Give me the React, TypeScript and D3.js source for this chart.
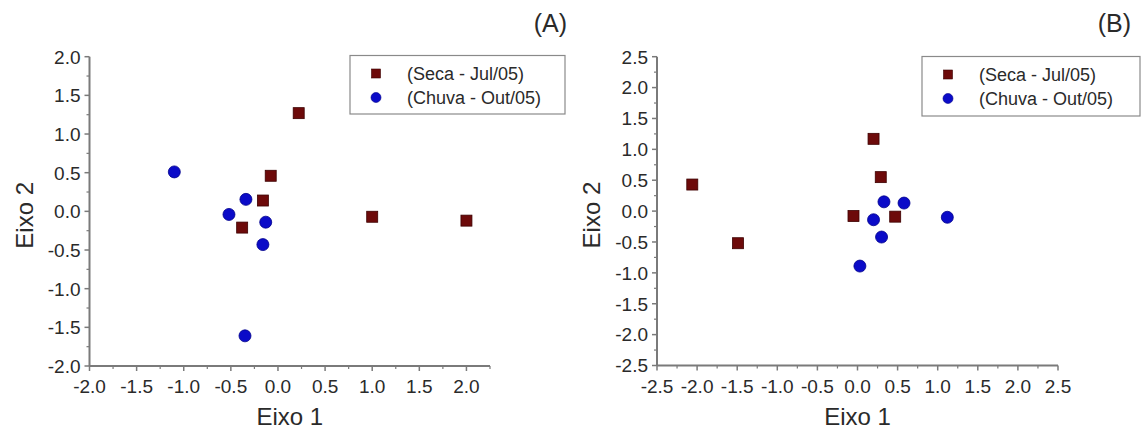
import React from "react";
import * as d3 from "d3";

// ---- data ----
const seriesNames = ["(Seca - Jul/05)", "(Chuva - Out/05)"];
const panelTitles = ["(A)", "(B)"];
const xTitle = "Eixo 1";
const yTitle = "Eixo 2";

const secaA: [number, number][] = [
  [0.22, 1.27], [-0.077, 0.46], [-0.16, 0.14], [-0.38, -0.21], [1.0, -0.07], [2.0, -0.12],
];
const chuvaA: [number, number][] = [
  [-1.1, 0.51], [-0.34, 0.155], [-0.52, -0.04], [-0.13, -0.14], [-0.16, -0.43], [-0.35, -1.61],
];
const secaB: [number, number][] = [
  [-2.06, 0.43], [-1.49, -0.52], [0.2, 1.17], [0.29, 0.55], [-0.05, -0.08], [0.47, -0.09],
];
const chuvaB: [number, number][] = [
  [0.33, 0.15], [0.58, 0.13], [0.2, -0.14], [0.3, -0.42], [1.12, -0.1], [0.03, -0.89],
];

const ticksA = [-2.0, -1.5, -1.0, -0.5, 0.0, 0.5, 1.0, 1.5, 2.0];
const ticksB = [-2.5, -2.0, -1.5, -1.0, -0.5, 0.0, 0.5, 1.0, 1.5, 2.0, 2.5];
const xDomainA: [number, number] = [-2, 2.25];
const yDomainA: [number, number] = [-2, 2];
const xDomainB: [number, number] = [-2.5, 2.5];
const yDomainB: [number, number] = [-2.5, 2.5];

const SQ_COLOR = "#6d0a0a";
const SQ_STROKE = "#3d0000";
const CI_COLOR = "#0b0bc8";
const CI_STROKE = "#00008c";
const AXIS_COLOR = "#7a7a7a";
const TEXT_COLOR = "#2a2a2a";
const FONT = "'Liberation Sans', Arial, sans-serif";

type PanelProps = {
  xDomain: [number, number];
  yDomain: [number, number];
  xRange: [number, number];
  yRange: [number, number];
  ticks: number[];
  seca: [number, number][];
  chuva: [number, number][];
  title: string;
  titleX: number;
  legend: { x0: number; x1: number; y0: number; y1: number };
  yTitleX: number;
};

const fmt0 = d3.format(".1f");
const fmt = (v: number) => fmt0(v).replace("\u2212", "-");

function Panel(p: PanelProps) {
  const x = d3.scaleLinear().domain(p.xDomain).range(p.xRange);
  const y = d3.scaleLinear().domain(p.yDomain).range(p.yRange);
  const step = p.ticks[1] - p.ticks[0];
  const minorX = d3.range(p.xDomain[0] + step / 2, p.xDomain[1] + 1e-9, step);
  const minorY = d3.range(p.yDomain[0] + step / 2, p.yDomain[1], step);
  const xTicks = p.ticks.filter((t) => t <= p.xDomain[1] + 1e-9);
  const x0 = p.xRange[0];
  const yBase = p.yRange[0];
  const sq = 11;
  return (
    <g>
      {/* y axis */}
      <line x1={x0} x2={x0} y1={p.yRange[1]} y2={yBase} stroke={AXIS_COLOR} strokeWidth={2} />
      {p.ticks.map((t) => (
        <g key={"yt" + t}>
          <line x1={x0 - 5} x2={x0} y1={y(t)} y2={y(t)} stroke={AXIS_COLOR} strokeWidth={1.5} />
          <text x={x0 - 9} y={y(t)} dy="0.36em" textAnchor="end" fontSize={19} fill={TEXT_COLOR} fontFamily={FONT}>
            {fmt(t)}
          </text>
        </g>
      ))}
      {minorY.map((t) => (
        <line key={"ym" + t} x1={x0 - 3} x2={x0} y1={y(t)} y2={y(t)} stroke={AXIS_COLOR} strokeWidth={1.2} />
      ))}
      {/* x axis */}
      <line x1={x0} x2={p.xRange[1]} y1={yBase} y2={yBase} stroke={AXIS_COLOR} strokeWidth={2} />
      {xTicks.map((t) => (
        <g key={"xt" + t}>
          <line x1={x(t)} x2={x(t)} y1={yBase} y2={yBase + 5} stroke={AXIS_COLOR} strokeWidth={1.5} />
          <text x={x(t)} y={yBase + 27} textAnchor="middle" fontSize={19} fill={TEXT_COLOR} fontFamily={FONT}>
            {fmt(t)}
          </text>
        </g>
      ))}
      {minorX.map((t) => (
        <line key={"xm" + t} x1={x(t)} x2={x(t)} y1={yBase} y2={yBase + 3} stroke={AXIS_COLOR} strokeWidth={1.2} />
      ))}
      {/* axis titles */}
      <text
        x={(p.xRange[0] + p.xRange[1]) / 2}
        y={425}
        textAnchor="middle"
        fontSize={24}
        fill={TEXT_COLOR}
        fontFamily={FONT}
      >
        {xTitle}
      </text>
      <text
        transform={`translate(${p.yTitleX},${(p.yRange[0] + p.yRange[1]) / 2 + 4}) rotate(-90)`}
        textAnchor="middle"
        fontSize={24}
        fill={TEXT_COLOR}
        fontFamily={FONT}
      >
        {yTitle}
      </text>
      {/* panel title */}
      <text x={p.titleX} y={31.5} textAnchor="end" fontSize={25} fill={TEXT_COLOR} fontFamily={FONT}>
        {p.title}
      </text>
      {/* points */}
      {p.seca.map((d, i) => (
        <rect
          key={"s" + i}
          x={x(d[0]) - sq / 2}
          y={y(d[1]) - sq / 2}
          width={sq}
          height={sq}
          fill={SQ_COLOR}
          stroke={SQ_STROKE}
          strokeWidth={0.8}
        />
      ))}
      {p.chuva.map((d, i) => (
        <circle key={"c" + i} cx={x(d[0])} cy={y(d[1])} r={6} fill={CI_COLOR} stroke={CI_STROKE} strokeWidth={0.8} />
      ))}
      {/* legend */}
      <rect
        x={p.legend.x0}
        y={p.legend.y0}
        width={p.legend.x1 - p.legend.x0}
        height={p.legend.y1 - p.legend.y0}
        fill="#fff"
        stroke="#8a8a8a"
        strokeWidth={1.2}
      />
      <rect
        x={p.legend.x0 + 26 - 4.5}
        y={p.legend.y0 + 18 - 4.5}
        width={9}
        height={9}
        fill={SQ_COLOR}
        stroke={SQ_STROKE}
        strokeWidth={0.6}
      />
      <circle cx={p.legend.x0 + 26} cy={p.legend.y0 + 42} r={5} fill={CI_COLOR} stroke={CI_STROKE} strokeWidth={0.6} />
      <text x={p.legend.x0 + 57} y={p.legend.y0 + 24.5} fontSize={18} fill={TEXT_COLOR} fontFamily={FONT}>
        {seriesNames[0]}
      </text>
      <text x={p.legend.x0 + 57} y={p.legend.y0 + 48.5} fontSize={18} fill={TEXT_COLOR} fontFamily={FONT}>
        {seriesNames[1]}
      </text>
    </g>
  );
}

export default function App() {
  return (
    <svg
      width={1143}
      height={433}
      style={{ position: "absolute", left: 0, top: 0, background: "#fff" }}
    >
      <rect width={1143} height={433} fill="#fff" />
      <Panel
        xDomain={xDomainA}
        yDomain={yDomainA}
        xRange={[89.5, 490]}
        yRange={[366, 56.7]}
        ticks={ticksA}
        seca={secaA}
        chuva={chuvaA}
        title={panelTitles[0]}
        titleX={567}
        legend={{ x0: 350, x1: 565, y0: 55.5, y1: 114 }}
        yTitleX={33}
      />
      <Panel
        xDomain={xDomainB}
        yDomain={yDomainB}
        xRange={[657, 1058]}
        yRange={[365.5, 56.7]}
        ticks={ticksB}
        seca={secaB}
        chuva={chuvaB}
        title={panelTitles[1]}
        titleX={1131}
        legend={{ x0: 922, x1: 1140, y0: 56.5, y1: 116 }}
        yTitleX={600}
      />
    </svg>
  );
}
